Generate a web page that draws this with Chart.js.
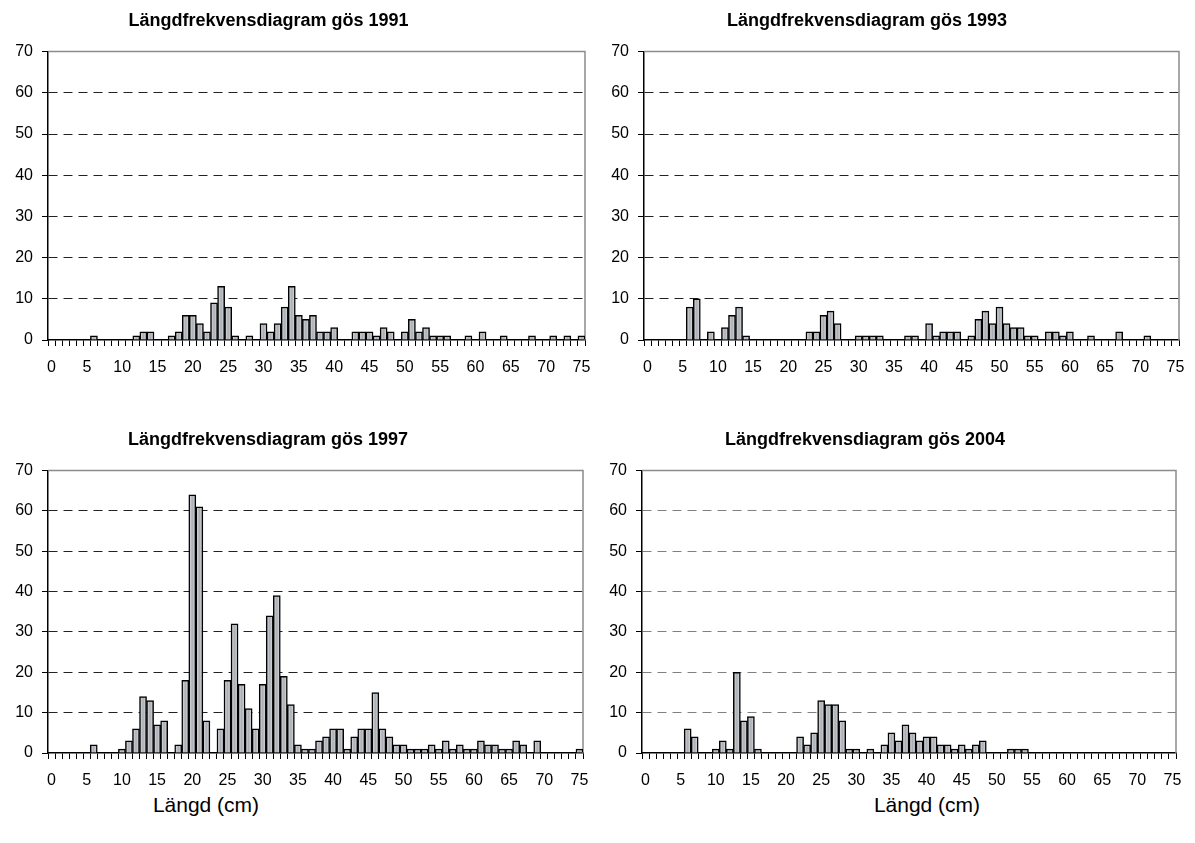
<!DOCTYPE html>
<html>
<head>
<meta charset="utf-8">
<script src="https://cdn.jsdelivr.net/npm/chart.js@4.4.1/dist/chart.umd.min.js"></script>
<style>
  html, body { margin: 0; padding: 0; background: #fff; width: 1195px; height: 843px; overflow: hidden; position: relative; }
  canvas { position: absolute; }
  .xcap { position: absolute; width: 200px; text-align: center; font: 21px "Liberation Sans", Arial, sans-serif; line-height: 24px; color: #000; }
</style>
</head>
<body>
<canvas id="c1991" width="648" height="380" style="left:-48px; top:0px"></canvas>
<canvas id="c1993" width="639" height="380" style="left:555px; top:0px"></canvas>
<canvas id="c1997" width="645" height="374" style="left:-47px; top:419px"></canvas>
<canvas id="c2004" width="637" height="374" style="left:554px; top:419px"></canvas>
<div class="xcap" style="left:106px; top:793px">Längd (cm)</div>
<div class="xcap" style="left:827px; top:793px">Längd (cm)</div>

<script>
// length classes (cm) – also the x tick labels
const lengths = ['0','1','2','3','4','5','6','7','8','9',
  '10','11','12','13','14','15','16','17','18','19',
  '20','21','22','23','24','25','26','27','28','29',
  '30','31','32','33','34','35','36','37','38','39',
  '40','41','42','43','44','45','46','47','48','49',
  '50','51','52','53','54','55','56','57','58','59',
  '60','61','62','63','64','65','66','67','68','69',
  '70','71','72','73','74','75'];

// number of fish per length class
const gos1991 = [0,0,0,0,0,0,1,0,0,0, 0,0,1,2,2,0,0,1,2,6, 6,4,2,9,13,8,1,0,1,0,
  4,2,4,8,13,6,5,6,2,2, 3,0,0,2,2,2,1,3,2,0, 2,5,2,3,1,1,1,0,0,1,
  0,2,0,0,1,0,0,0,1,0, 0,1,0,1,0,1];
const gos1993 = [0,0,0,0,0,0,8,10,0,2, 0,3,6,8,1,0,0,0,0,0, 0,0,0,2,2,6,7,4,0,0,
  1,1,1,1,0,0,0,1,1,0, 4,1,2,2,2,0,1,5,7,4, 8,4,3,3,1,1,0,2,2,1,
  2,0,0,1,0,0,0,2,0,0, 0,1,0,0,0,0];
const gos1997 = [0,0,0,0,0,0,2,0,0,0, 1,3,6,14,13,7,8,0,2,18, 64,61,8,0,6,18,32,17,11,6,
  17,34,39,19,12,2,1,1,3,4, 6,6,1,4,6,6,15,6,4,2, 2,1,1,1,2,1,3,1,2,1,
  1,3,2,2,1,1,3,2,0,3, 0,0,0,0,0,1];
const gos2004 = [0,0,0,0,0,0,6,4,0,0, 1,3,1,20,8,9,1,0,0,0, 0,0,4,2,5,13,12,12,8,1,
  1,0,1,0,2,5,3,7,5,3, 4,4,2,2,1,2,1,2,3,0, 0,0,1,1,1,0,0,0,0,0,
  0,0,0,0,0,0,0,0,0,0, 0,0,0,0,0,0];

const yTicks = { min: 0, max: 70, step: 10 };

Chart.defaults.font.family = '"Liberation Sans", Arial, sans-serif';
Chart.defaults.color = '#000';

// grey frame on top and right of the plot area
const frame = {
  id: 'frame',
  beforeDatasetsDraw(chart) {
    const { ctx, chartArea: a } = chart;
    ctx.save();
    ctx.strokeStyle = '#8c8c8c';
    ctx.lineWidth = 1.5;
    ctx.beginPath();
    ctx.moveTo(a.left, a.top);
    ctx.lineTo(a.right, a.top);
    ctx.lineTo(a.right, a.bottom);
    ctx.stroke();
    ctx.restore();
  }
};

// shaded fill across each bar
function barFill(context) {
  const chart = context.chart;
  const xs = chart.scales.x;
  if (!chart.chartArea || !xs) return '#cfd2d6';
  const cx = xs.getPixelForValue(context.dataIndex);
  const half = (xs.getPixelForValue(1) - xs.getPixelForValue(0)) / 2;
  const g = chart.ctx.createLinearGradient(cx - half, 0, cx + half, 0);
  g.addColorStop(0, '#e6e8eb');
  g.addColorStop(0.5, '#a9aeb4');
  g.addColorStop(1, '#e6e8eb');
  return g;
}

function makePanel(id, title, values, axisWidth, gridColor) {
  return new Chart(document.getElementById(id), {
    type: 'bar',
    data: {
      labels: lengths,
      datasets: [{
        data: values,
        backgroundColor: barFill,
        borderColor: '#000',
        borderWidth: 1.5,
        borderSkipped: 'start',
        categoryPercentage: 1,
        barPercentage: 1
      }]
    },
    options: {
      responsive: false,
      animation: false,
      devicePixelRatio: 1,
      layout: { padding: { left: 0, right: 15, top: 0, bottom: 0 } },
      plugins: {
        legend: { display: false },
        tooltip: { enabled: false },
        title: {
          display: true,
          text: title,
          color: '#000',
          font: { size: 18, weight: 'bold' },
          padding: { top: 10, bottom: 20 }
        }
      },
      scales: {
        x: {
          offset: true,
          grid: { offset: true, drawOnChartArea: false, drawTicks: true, tickLength: 6, tickColor: '#000', tickWidth: 1 },
          border: { color: '#000', width: 1.5 },
          ticks: {
            autoSkip: false, maxRotation: 0, minRotation: 0, padding: 12,
            font: { size: 16 },
            callback(v, i) { return i % 5 === 0 ? this.getLabelForValue(v) : ''; }
          },
          afterFit(s) { s.height = 40; s.paddingLeft = 0; s.paddingRight = 0; }
        },
        y: {
          min: yTicks.min,
          max: yTicks.max,
          ticks: { stepSize: yTicks.step, padding: 9, font: { size: 16 } },
          grid: {
            color: c => (c.tick && (c.tick.value === yTicks.min || c.tick.value === yTicks.max)) ? 'rgba(0,0,0,0)' : gridColor,
            lineWidth: 1,
            tickLength: 6,
            tickColor: '#000',
            drawTicks: true
          },
          border: { color: '#000', width: 1.5, dash: c => c.type === 'tick' ? [9, 6] : [] },
          afterFit(s) { s.width = axisWidth; s.paddingTop = 0; s.paddingBottom = 0; }
        }
      }
    },
    plugins: [frame]
  });
}

makePanel('c1991', 'Längdfrekvensdiagram gös 1991', gos1991, 96, '#222');
makePanel('c1993', 'Längdfrekvensdiagram gös 1993', gos1993, 89, '#222');
makePanel('c1997', 'Längdfrekvensdiagram gös 1997', gos1997, 95, '#222');
makePanel('c2004', 'Längdfrekvensdiagram gös 2004', gos2004, 88, '#808080');
</script>
</body>
</html>
